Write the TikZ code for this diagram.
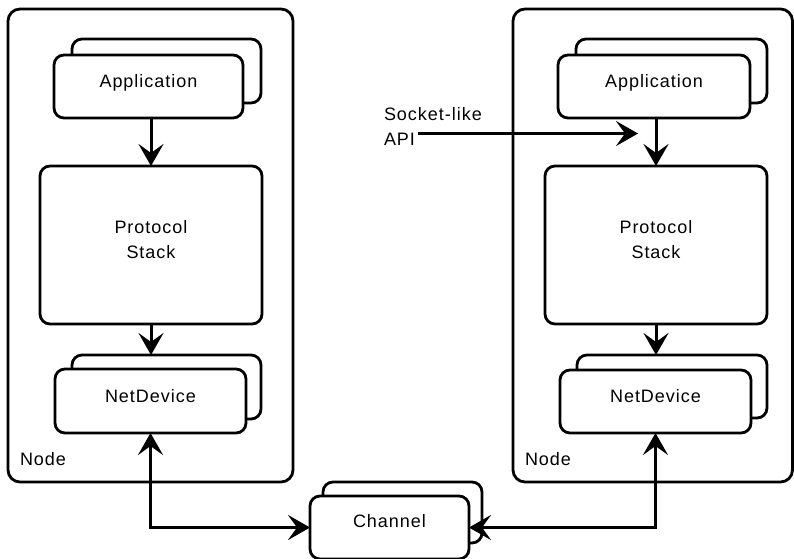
\documentclass[tikz,border=0pt]{standalone}
\usepackage{fontspec}
\setmainfont{Liberation Sans}[LetterSpace=5.5]
\usetikzlibrary{arrows.meta}
\begin{document}
\begin{tikzpicture}[x=1pt,y=-1pt,
  every node/.style={font=\fontsize{18}{25}\selectfont, inner sep=0pt, outer sep=0pt},
  container/.style={draw, line width=2.8pt, rounded corners=12pt},
  box/.style={draw, fill=white, line width=2.8pt, rounded corners=10pt, align=center},
  conn/.style={line width=3pt, -{Stealth[length=22pt,width=25pt,inset=9pt]}},
  bconn/.style={line width=3pt, {Stealth[length=22pt,width=25pt,inset=9pt]}-{Stealth[length=22pt,width=25pt,inset=9pt]}},
  lbl/.style={anchor=west, align=left}
]
\useasboundingbox (0,0) rectangle (794,558);
% containers
\draw[container] (8,9) rectangle (293,482);
\draw[container] (513,9) rectangle (792.5,482);
\node[lbl] (nodeL) at (20,459) {Node};
\node[lbl] (nodeR) at (525,459) {Node};

% left column
\node[box, minimum width=189pt, minimum height=64pt] (appLb) at (166.5,71) {};
\node[box, minimum width=189pt, minimum height=63pt] (appL) at (148.5,86.5) {};
\node (appLt) at (148.5,83) {Application};
\node[box, minimum width=222pt, minimum height=158pt] (stackL) at (151,245) {};
\node[align=center] (stackLt) at (151,240) {Protocol\\Stack};
\node[box, minimum width=189pt, minimum height=64pt] (netLb) at (166.5,387) {};
\node[box, minimum width=191pt, minimum height=64pt] (netL) at (150.5,401) {};
\node (netLt) at (150.5,396) {NetDevice};

% right column
\node[box, minimum width=191pt, minimum height=64pt] (appRb) at (671.5,71) {};
\node[box, minimum width=192pt, minimum height=63pt] (appR) at (654,86.5) {};
\node (appRt) at (654,83) {Application};
\node[box, minimum width=222pt, minimum height=158pt] (stackR) at (656,245) {};
\node[align=center] (stackRt) at (656,240) {Protocol\\Stack};
\node[box, minimum width=190pt, minimum height=63pt] (netRb) at (672,386.5) {};
\node[box, minimum width=191pt, minimum height=63pt] (netR) at (655.5,401.5) {};
\node (netRt) at (655.5,396) {NetDevice};

% channel
\node[box, minimum width=159pt, minimum height=61pt] (chanb) at (402.5,512.5) {};
\node[box, minimum width=159pt, minimum height=63pt] (chan) at (389.5,527.5) {};
\node (chant) at (389.5,521) {Channel};

% socket-like API
\node[lbl] (sock) at (384,126.5) {Socket-like\\API};
\coordinate (apiS) at (418,133.5);
\coordinate (apiE) at (638,133.5);

% connectors
\draw[conn] (stackL.north |- appL.south) -- (stackL.north);
\draw[conn] (stackL.south) -- (stackL.south |- netLb.north);
\draw[conn] (stackR.north |- appR.south) -- (stackR.north);
\draw[conn] (stackR.south) -- (stackR.south |- netRb.north);
\draw[conn] (apiS) -- (apiE);
\draw[bconn] (netL.south) |- (chan.west);
\draw[bconn] (chan.east) -| (netR.south);
\end{tikzpicture}
\end{document}
